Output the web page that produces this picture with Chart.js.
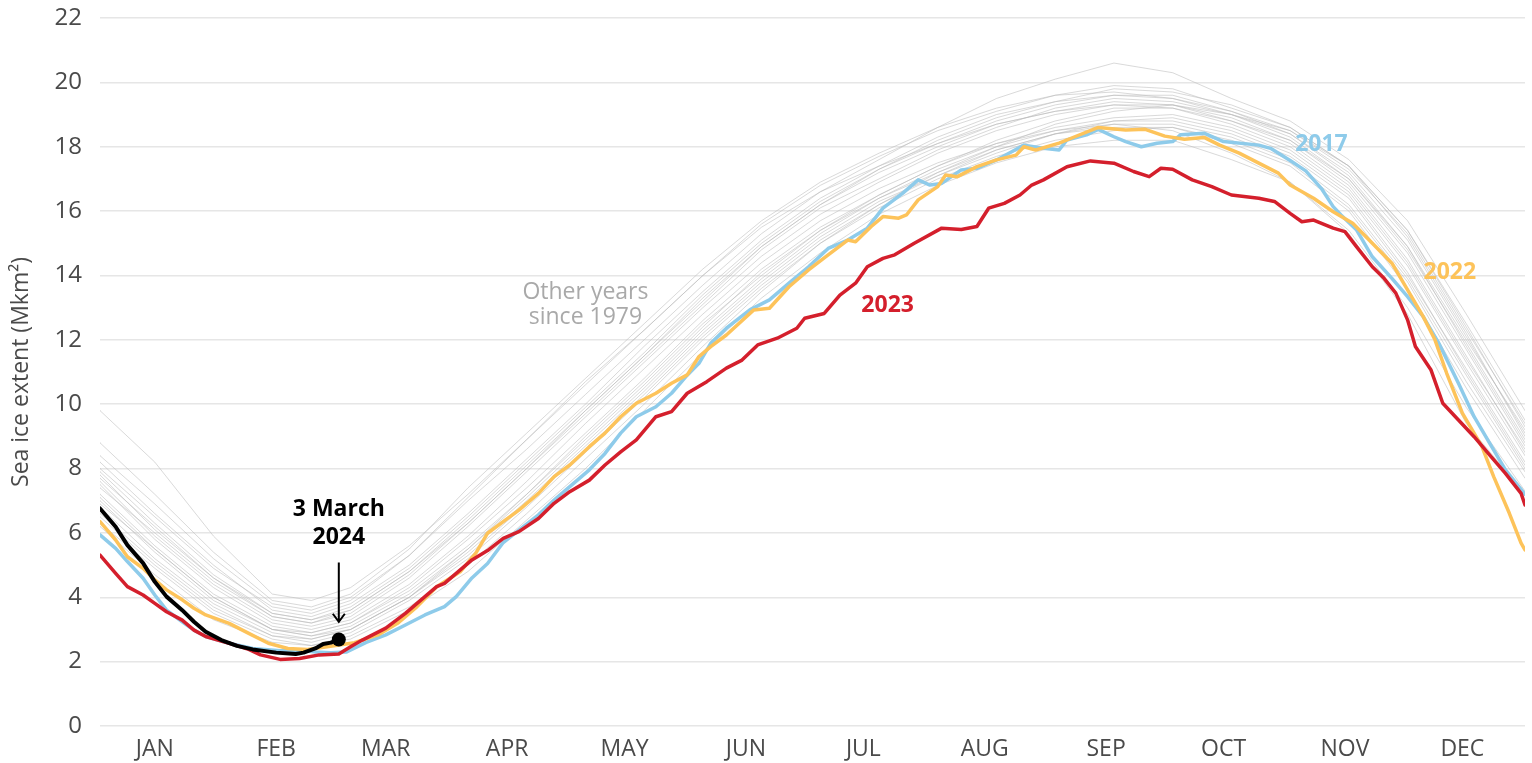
<!DOCTYPE html>
<html>
<head>
<meta charset="utf-8">
<script src="https://cdn.jsdelivr.net/npm/chart.js@4.4.1/dist/chart.umd.min.js"></script>
<style>
    html, body { margin: 0; padding: 0; background: #ffffff; }
    #wrap { width: 1532px; height: 763px; }
</style>
</head>
<body>
<div id="wrap"><canvas id="sea_ice_extent" width="1532" height="763"></canvas></div>
<script>
/* global Chart */

const FONT = "'Open Sans', 'Noto Sans', sans-serif";

// month labels sit in the middle of each month (day of year)
const monthLabels = ["JAN", "FEB", "MAR", "APR", "MAY", "JUN", "JUL", "AUG", "SEP", "OCT", "NOV", "DEC"];
const monthTickDays = [15, 46, 74, 105, 135, 166, 196, 227, 258, 288, 319, 349];

// 2024 (up to 3 March)
const days2024 = [1, 5, 8, 12, 15, 18, 22, 25, 28, 32, 36, 40, 46, 51, 53, 56, 58, 60, 62];
const values2024 = [6.76, 6.19, 5.62, 5.06, 4.48, 4.02, 3.60, 3.24, 2.93, 2.67, 2.49, 2.38, 2.28, 2.24, 2.28, 2.41, 2.55, 2.59, 2.69];

// 2023
const days2023 = [1, 5, 8, 12, 15, 18, 22, 25, 28, 34, 39, 42, 47, 52, 57, 62, 65, 68, 74, 79,
    84, 87, 89, 94, 96, 100, 104, 108, 113, 117, 121, 126, 130, 134, 138, 143, 147, 151, 156, 161,
    165, 169, 174, 179, 181, 186, 190, 194, 197, 201, 204, 209, 216, 221, 225, 228, 232, 236, 239, 242,
    248, 254, 260, 265, 269, 272, 275, 280, 285, 290, 297, 301, 305, 308, 311, 316, 319, 322, 326, 329,
    332, 335, 337, 341, 344, 348, 352, 356, 360, 364, 365];
const values2023 = [5.31, 4.74, 4.33, 4.07, 3.81, 3.55, 3.29, 2.98, 2.78, 2.57, 2.38, 2.21, 2.07, 2.10, 2.21, 2.24, 2.46, 2.67, 3.04, 3.50,
    4.02, 4.33, 4.43, 4.95, 5.16, 5.45, 5.83, 6.04, 6.45, 6.92, 7.28, 7.64, 8.11, 8.52, 8.89, 9.61, 9.77, 10.34, 10.70, 11.12,
    11.37, 11.84, 12.05, 12.36, 12.67, 12.82, 13.39, 13.76, 14.27, 14.53, 14.64, 15.00, 15.47, 15.43, 15.52, 16.09, 16.24, 16.50, 16.81, 16.97,
    17.38, 17.56, 17.49, 17.23, 17.07, 17.33, 17.30, 16.97, 16.76, 16.50, 16.40, 16.30, 15.93, 15.67, 15.72, 15.47, 15.36, 14.89, 14.27, 13.91,
    13.45, 12.62, 11.79, 11.06, 10.03, 9.51, 8.99, 8.42, 7.85, 7.23, 6.87];

// 2022
const days2022 = [1, 5, 8, 12, 15, 18, 22, 25, 28, 34, 39, 44, 49, 54, 59, 66, 72, 77, 82, 87,
    93, 97, 100, 104, 108, 113, 117, 121, 126, 130, 134, 138, 143, 147, 151, 154, 157, 161, 168, 172,
    177, 182, 187, 192, 194, 198, 201, 205, 207, 210, 215, 217, 220, 225, 230, 235, 237, 240, 246, 250,
    256, 263, 268, 273, 278, 283, 287, 292, 297, 302, 305, 311, 316, 321, 326, 331, 335, 339, 342, 345,
    349, 354, 357, 361, 364, 365];
const values2022 = [6.35, 5.78, 5.26, 4.90, 4.54, 4.23, 3.92, 3.66, 3.45, 3.19, 2.88, 2.57, 2.41, 2.38, 2.46, 2.59, 2.83, 3.19, 3.71, 4.33,
    4.79, 5.37, 5.99, 6.35, 6.71, 7.23, 7.75, 8.11, 8.68, 9.10, 9.61, 10.03, 10.34, 10.65, 10.91, 11.48, 11.79, 12.15, 12.93, 12.98,
    13.65, 14.17, 14.64, 15.10, 15.05, 15.52, 15.83, 15.78, 15.88, 16.35, 16.76, 17.12, 17.07, 17.38, 17.59, 17.74, 18.00, 17.90, 18.11, 18.31,
    18.60, 18.52, 18.54, 18.33, 18.23, 18.29, 18.05, 17.80, 17.49, 17.18, 16.81, 16.40, 15.98, 15.62, 15.00, 14.38, 13.55, 12.72, 12.00, 10.96,
    9.72, 8.68, 7.75, 6.61, 5.68, 5.47];

// 2017
const days2017 = [1, 5, 8, 12, 15, 18, 22, 25, 28, 34, 40, 47, 52, 56, 60, 64, 69, 74, 79, 84,
    89, 92, 96, 100, 104, 108, 113, 117, 121, 126, 130, 134, 138, 143, 147, 151, 154, 157, 161, 167,
    172, 177, 182, 187, 192, 197, 201, 206, 210, 213, 216, 221, 225, 230, 234, 237, 242, 246, 248, 253,
    256, 260, 263, 267, 271, 275, 277, 283, 288, 297, 300, 305, 309, 313, 316, 318, 322, 326, 331, 335,
    339, 343, 348, 352, 356, 360, 365];
const values2017 = [5.94, 5.52, 5.11, 4.59, 4.07, 3.60, 3.24, 2.98, 2.78, 2.57, 2.41, 2.34, 2.36, 2.30, 2.28, 2.30, 2.60, 2.83, 3.14, 3.45,
    3.71, 4.02, 4.60, 5.05, 5.70, 6.09, 6.56, 7.02, 7.44, 7.96, 8.47, 9.10, 9.61, 9.92, 10.34, 10.90, 11.27, 11.89, 12.36, 12.93,
    13.24, 13.76, 14.27, 14.84, 15.10, 15.47, 16.09, 16.55, 16.97, 16.81, 16.86, 17.28, 17.33, 17.59, 17.85, 18.05, 17.95, 17.90, 18.21, 18.37,
    18.54, 18.31, 18.16, 18.00, 18.11, 18.16, 18.37, 18.42, 18.16, 18.05, 17.95, 17.57, 17.25, 16.70, 16.14, 15.88, 15.41, 14.58, 13.91, 13.34,
    12.72, 11.89, 10.65, 9.61, 8.78, 7.96, 7.20];

// other years since 1979 (a sample of the grey band, read roughly)
const otherDays = [1, 15, 30, 45, 55, 65, 80, 95, 110, 125, 140, 155, 170, 185, 200, 215, 230, 245, 260, 275, 290, 305, 320, 335, 350, 365];
const otherYears = [
    [9.8, 8.2, 5.9, 4.1, 3.9, 4.3, 5.6, 7.2, 8.9, 10.6, 12.3, 14.0, 15.6, 16.8, 17.7, 18.5, 19.1, 19.6, 19.9, 19.8, 19.2, 18.6, 17.4, 15.4, 12.5, 9.5],
    [8.4, 6.9, 5.2, 3.8, 3.6, 4.0, 5.3, 7.0, 8.6, 10.3, 12.0, 13.7, 15.3, 16.6, 17.6, 18.6, 19.5, 20.1, 20.6, 20.3, 19.5, 18.8, 17.6, 15.7, 12.8, 9.8],
    [7.9, 6.3, 4.7, 3.5, 3.3, 3.7, 4.9, 6.5, 8.2, 9.9, 11.6, 13.4, 15.0, 16.3, 17.3, 18.1, 18.8, 19.3, 19.6, 19.6, 19.1, 18.4, 17.2, 15.1, 12.1, 9.1],
    [7.6, 5.9, 4.4, 3.3, 3.1, 3.4, 4.6, 6.2, 7.9, 9.6, 11.3, 13.0, 14.6, 15.9, 16.9, 17.8, 18.5, 19.0, 19.3, 19.3, 18.9, 18.2, 16.9, 14.7, 11.7, 8.7],
    [7.2, 5.6, 4.1, 3.1, 2.9, 3.2, 4.3, 5.8, 7.4, 9.1, 10.8, 12.6, 14.2, 15.5, 16.5, 17.4, 18.1, 18.6, 18.9, 19.0, 18.6, 17.9, 16.6, 14.3, 11.3, 8.4],
    [7.0, 5.4, 3.9, 3.0, 2.8, 3.1, 4.1, 5.5, 7.1, 8.8, 10.5, 12.3, 13.9, 15.3, 16.4, 17.2, 17.9, 18.4, 18.7, 18.7, 18.3, 17.6, 16.2, 13.9, 10.9, 8.0],
    [6.6, 5.1, 3.7, 2.8, 2.6, 2.9, 3.9, 5.2, 6.8, 8.5, 10.2, 12.0, 13.6, 15.0, 16.1, 17.0, 17.7, 18.2, 18.5, 18.6, 18.1, 17.4, 16.0, 13.6, 10.5, 7.7],
    [7.5, 5.8, 4.3, 3.2, 3.0, 3.3, 4.4, 5.9, 7.6, 9.4, 11.1, 12.8, 14.4, 15.7, 16.7, 17.5, 18.1, 18.5, 18.7, 18.5, 17.8, 16.9, 15.3, 12.8, 9.4, 7.2],
    [6.2, 4.7, 3.3, 2.6, 2.5, 2.8, 3.7, 5.0, 6.6, 8.3, 10.0, 11.8, 13.5, 15.0, 16.2, 17.2, 18.0, 18.7, 19.1, 19.3, 19.0, 18.5, 17.4, 15.4, 12.4, 9.3],
    [8.0, 6.5, 4.9, 3.7, 3.5, 3.9, 5.3, 7.1, 8.9, 10.7, 12.3, 14.0, 15.5, 16.6, 17.4, 18.1, 18.7, 19.1, 19.4, 19.3, 18.8, 18.1, 16.8, 14.5, 11.5, 8.5],
    [6.8, 5.2, 3.8, 2.9, 2.7, 3.0, 4.0, 5.4, 7.0, 8.7, 10.4, 12.2, 13.8, 15.2, 16.3, 17.1, 17.8, 18.4, 18.8, 18.9, 18.5, 17.8, 16.5, 14.1, 11.0, 8.1],
    [6.3, 4.9, 3.5, 2.7, 2.5, 2.7, 3.6, 4.8, 6.4, 8.0, 9.8, 11.6, 13.3, 14.7, 15.9, 16.8, 17.5, 18.0, 18.2, 18.2, 17.6, 16.9, 15.4, 13.0, 9.9, 7.3],
    [7.4, 6.0, 4.5, 3.4, 3.2, 3.5, 4.7, 6.3, 8.0, 9.7, 11.4, 13.1, 14.8, 16.1, 17.0, 17.9, 18.6, 19.2, 19.5, 19.4, 19.0, 18.3, 17.0, 14.8, 11.9, 8.9],
    [8.8, 7.2, 5.4, 3.9, 3.7, 4.1, 5.5, 7.4, 9.1, 10.8, 12.5, 14.2, 15.7, 16.9, 17.8, 18.6, 19.2, 19.6, 19.7, 19.5, 19.0, 18.4, 17.1, 14.9, 12.0, 9.2],
    [7.8, 6.1, 4.6, 3.4, 3.2, 3.6, 4.8, 6.4, 8.1, 9.8, 11.5, 13.2, 14.9, 16.2, 17.2, 18.0, 18.7, 19.1, 19.3, 19.2, 18.7, 18.0, 16.7, 14.4, 11.4, 8.6],
    [6.9, 5.5, 4.0, 3.0, 2.9, 3.2, 4.2, 5.6, 7.2, 8.9, 10.6, 12.4, 14.1, 15.4, 16.5, 17.4, 18.2, 18.8, 19.2, 19.2, 18.8, 18.2, 17.0, 14.9, 11.8, 8.8],
    [8.2, 6.6, 5.0, 3.6, 3.4, 3.8, 5.0, 6.6, 8.3, 10.0, 11.8, 13.5, 15.1, 16.4, 17.4, 18.3, 19.0, 19.4, 19.6, 19.5, 19.1, 18.5, 17.3, 15.3, 12.3, 9.4],
    [7.1, 5.5, 4.0, 3.0, 2.8, 3.0, 4.0, 5.3, 6.9, 8.6, 10.3, 12.1, 13.7, 15.1, 16.2, 17.1, 17.9, 18.4, 18.6, 18.6, 18.2, 17.5, 16.1, 13.8, 10.7, 7.9],
    [7.7, 6.2, 4.6, 3.5, 3.3, 3.6, 4.8, 6.3, 8.0, 9.8, 11.5, 13.3, 14.9, 16.2, 17.3, 18.2, 18.9, 19.4, 19.8, 19.7, 19.3, 18.6, 17.4, 15.2, 12.2, 9.0],
    [6.5, 5.0, 3.6, 2.8, 2.7, 3.0, 4.0, 5.5, 7.2, 9.0, 10.7, 12.5, 14.0, 15.4, 16.4, 17.3, 18.0, 18.5, 18.8, 18.8, 18.4, 17.7, 16.4, 14.0, 11.1, 8.2]
];

const COLOR_2017 = "#8ecbea";
const COLOR_2022 = "#fdc35a";
const COLOR_2023 = "#d41f2c";
const COLOR_2024 = "#000000";

function toPoints(days, values) {
    return days.map((d, i) => ({ x: d, y: values[i] }));
}

const datasets = otherYears.map(vals => ({
    data: toPoints(otherDays, vals),
    borderColor: "rgba(185, 185, 185, 0.55)",
    borderWidth: 1,
    order: 10,
}));

datasets.push(
    { data: toPoints(days2017, values2017), borderColor: COLOR_2017, borderWidth: 3.5, order: 4 },
    { data: toPoints(days2022, values2022), borderColor: COLOR_2022, borderWidth: 3.5, order: 3 },
    { data: toPoints(days2023, values2023), borderColor: COLOR_2023, borderWidth: 3.5, order: 2 },
    {
        data: toPoints(days2024, values2024),
        borderColor: COLOR_2024,
        backgroundColor: COLOR_2024,
        borderWidth: 4,
        order: 1,
        pointRadius: ctx => (ctx.dataIndex === days2024.length - 1 ? 7 : 0),
        pointBorderWidth: 0,
    }
);

// text and arrow annotations, placed in data units
const annotationPlugin = {
    id: "seaIceLabels",
    afterDatasetsDraw(chart) {
        const { ctx, scales: { x, y } } = chart;
        ctx.save();
        ctx.textAlign = "center";
        ctx.textBaseline = "middle";

        const text = (str, day, val, color, weight) => {
            ctx.font = `${weight} 23px ${FONT}`;
            ctx.fillStyle = color;
            ctx.fillText(str, x.getPixelForValue(day), y.getPixelForValue(val));
        };

        text("2017", 313, 18.08, COLOR_2017, "bold");
        text("2022", 345.8, 14.1, COLOR_2022, "bold");
        text("2023", 202.2, 13.08, COLOR_2023, "bold");
        text("Other years", 125, 13.48, "#a9a9a9", "normal");
        text("since 1979", 125, 12.68, "#a9a9a9", "normal");
        text("3 March", 62, 6.74, "#000000", "bold");
        text("2024", 62, 5.86, "#000000", "bold");

        // arrow pointing at the 3 March value
        const ax = x.getPixelForValue(62);
        const y0 = y.getPixelForValue(5.08);
        const y1 = y.getPixelForValue(3.24);
        ctx.strokeStyle = "#000000";
        ctx.lineWidth = 2;
        ctx.beginPath();
        ctx.moveTo(ax, y0);
        ctx.lineTo(ax, y1);
        ctx.moveTo(ax - 6, y1 - 8);
        ctx.lineTo(ax, y1);
        ctx.lineTo(ax + 6, y1 - 8);
        ctx.stroke();
        ctx.restore();
    },
};

const chartCanvas = document.getElementById("sea_ice_extent");

new Chart(chartCanvas, {
    type: "line",
    data: { datasets: datasets },
    options: {
        responsive: false,
        animation: false,
        layout: { padding: { top: 18, right: 0, left: 0, bottom: 0 } },
        elements: {
            point: { radius: 0 },
            line: { tension: 0, borderJoinStyle: "round", borderCapStyle: "round" },
        },
        plugins: {
            legend: { display: false },
            tooltip: { enabled: false },
        },
        scales: {
            x: {
                type: "linear",
                min: 1,
                max: 365,
                grid: { display: false, drawTicks: false },
                border: { display: false },
                afterBuildTicks: axis => {
                    axis.ticks = monthTickDays.map(v => ({ value: v }));
                },
                afterFit: axis => {
                    axis.height = 37;
                },
                ticks: {
                    autoSkip: false,
                    maxRotation: 0,
                    padding: 10,
                    color: "#4a4a4a",
                    font: { family: FONT, size: 23 },
                    callback: (value, index) => monthLabels[index],
                },
            },
            y: {
                min: 0,
                max: 22,
                afterFit: axis => {
                    axis.width = 100;
                    axis.paddingTop = 0;
                    axis.paddingBottom = 0;
                },
                grid: { color: "#e6e6e6", lineWidth: 1.5, drawTicks: false },
                border: { display: false },
                ticks: {
                    stepSize: 2,
                    padding: 18,
                    color: "#4a4a4a",
                    font: { family: FONT, size: 24 },
                },
                title: {
                    display: true,
                    text: "Sea ice extent (Mkm²)",
                    color: "#4a4a4a",
                    font: { family: FONT, size: 23 },
                    padding: { top: 8, bottom: 0 },
                },
            },
        },
    },
    plugins: [annotationPlugin],
});
</script>
</body>
</html>
